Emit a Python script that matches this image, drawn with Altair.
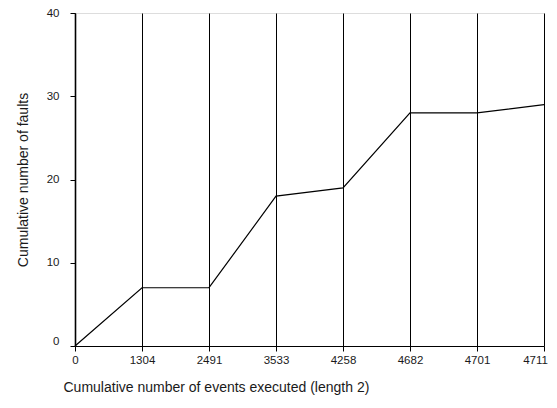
import altair as alt
import pandas as pd

events = ["0", "1304", "2491", "3533", "4258", "4682", "4701", "4711"]
faults = [0, 7, 7, 18, 19, 28, 28, 29]

df = pd.DataFrame({"events": events, "faults": faults})

FONT = "Liberation Sans"
PLOT_W, PLOT_H = 469, 333
TOP = 5
SVG_H = 388

chart = alt.Chart(df).mark_line(color="black", strokeWidth=1.2).encode(
    x=alt.X(
        "events:O",
        sort=events,
        scale=alt.Scale(type="point", padding=0),
        axis=alt.Axis(
            title="Cumulative number of events executed (length 2)",
            labelAngle=0,
            grid=True,
            gridColor="black",
            gridOpacity=1,
            gridWidth=1,
            domainColor="black",
            tickColor="black",
            tickSize=5,
            labelFontSize=11.5,
            labelColor="#1a1a1a",
            labelPadding=3,
            labelOffset={"condition": {"test": "datum.value == '4711'", "value": -9}, "value": 0},
            titleFontSize=14,
            titleFontWeight="normal",
            titleColor="#1a1a1a",
            titleAnchor="start",
            titleBaseline="alphabetic",
            titleAlign="left",
            titleX=-12,
            titleY=SVG_H - TOP - PLOT_H - 5,
        ),
    ),
    y=alt.Y(
        "faults:Q",
        scale=alt.Scale(domain=[0, 40], nice=False),
        axis=alt.Axis(
            title="Cumulative number of faults",
            values=[0, 10, 20, 30, 40],
            grid=False,
            domainColor="black",
            domainWidth=1.6,
            tickColor="black",
            tickSize=5,
            labelFontSize=11.5,
            labelColor="#1a1a1a",
            labelPadding=11,
            labelBaseline={"condition": {"test": "datum.value == 0", "value": "bottom"}, "value": "middle"},
            titleFontSize=14,
            titleFontWeight="normal",
            titleColor="#1a1a1a",
            titlePadding=16,
        ),
    ),
).properties(
    width=PLOT_W,
    height=PLOT_H,
    autosize=alt.AutoSizeParams(type="none"),
    padding={"left": 67, "top": TOP, "right": 5, "bottom": SVG_H - TOP - PLOT_H},
).configure_view(
    stroke="black", strokeWidth=1
).configure(font=FONT).configure_axis(labelFont=FONT, titleFont=FONT)

chart.save("out.html", embed_options={"renderer": "svg", "actions": False})
